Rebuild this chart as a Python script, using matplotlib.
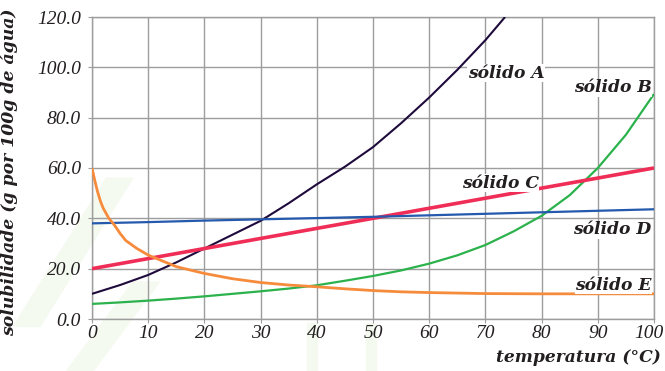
import matplotlib
matplotlib.use("Agg")
import matplotlib.pyplot as plt
import matplotlib.transforms as mtransforms
from matplotlib.patches import Polygon, Rectangle

# solubility curves read at the given temperatures (°C)
temp_a = [0, 5, 10, 15, 20, 25, 30, 35, 40, 45, 50, 55, 60, 65, 70, 73.5]
sol_a = [10, 13.5, 17.5, 22.5, 28, 33.5, 39, 46, 53.5, 60.5, 68.3, 77.8, 88, 99, 110.8, 120]

temp_b = [0, 5, 10, 15, 20, 25, 30, 35, 40, 45, 50, 55, 60, 65, 70, 75, 80, 85, 90, 95, 100]
sol_b = [6, 6.6, 7.3, 8.1, 9, 10, 11, 12.1, 13.4, 15.2, 17.1, 19.3, 22, 25.3, 29.4, 34.8,
         41, 49.2, 60, 73.2, 89.4]

temp_c = [0, 10, 20, 30, 40, 50, 60, 70, 80, 90, 100]
sol_c = [20, 24, 28, 32, 36, 40, 44, 48, 52, 56, 60]

temp_d = [0, 10, 20, 30, 40, 50, 60, 70, 80, 90, 100]
sol_d = [38, 38.5, 39.1, 39.6, 40.1, 40.6, 41.2, 41.8, 42.4, 43, 43.6]

temp_e = [0, 0.5, 1, 1.5, 2, 3, 4, 5, 6, 8, 10, 15, 20, 25, 30, 35, 40, 45, 50, 55, 60,
          70, 80, 90, 100]
sol_e = [60, 55, 50.5, 46.8, 44, 40, 37.3, 34, 31.2, 28, 25.4, 20.8, 18.1, 16, 14.5, 13.5,
         12.8, 12, 11.3, 10.8, 10.5, 10.1, 10, 10, 10]

x_ticks = list(range(0, 101, 10))
y_ticks = list(range(0, 121, 20))

series = [
    (temp_a, sol_a, '#1e0b3c', 1.5),
    (temp_b, sol_b, '#2bb24c', 1.6),
    (temp_c, sol_c, '#ef2d56', 2.6),
    (temp_d, sol_d, '#2459ad', 1.6),
    (temp_e, sol_e, '#f68b3c', 2.0),
]

# label text, x, y, horizontal alignment
labels = [
    ('sólido A', 66.9, 97.7, 'left'),
    ('sólido B', 99.6, 91.8, 'right'),
    ('sólido C', 65.8, 54.0, 'left'),
    ('sólido D', 99.6, 35.4, 'right'),
    ('sólido E', 99.6, 13.5, 'right'),
]

plt.rcParams['font.family'] = ['DejaVu Serif']
ink = '#231f20'
tick_font = dict(fontfamily='Liberation Serif', fontstyle='italic', fontsize=14, color=ink)

fig = plt.figure(figsize=(6.65, 3.71), dpi=100)
fig.patch.set_facecolor('white')

# faint page decoration behind the chart
deco = '#f5faf1'
for pts in ([[0.02, 0.12], [0.06, 0.12], [0.20, 0.52], [0.16, 0.52]],
            [[0.10, 0.0], [0.14, 0.0], [0.24, 0.24], [0.20, 0.24]]):
    fig.patches.append(Polygon(pts, closed=True, transform=fig.transFigure,
                               color=deco, zorder=-5))
for x0 in (0.462, 0.551):
    fig.patches.append(Rectangle((x0, 0.0), 0.014, 0.13, transform=fig.transFigure,
                                 color=deco, zorder=-5))

ax = fig.add_axes([92 / 665, 1 - 319 / 371, 562 / 665, 302 / 371])
ax.set_facecolor('none')

for t, s, col, lw in series:
    ax.plot(t, s, color=col, lw=lw, solid_capstyle='butt', solid_joinstyle='round', zorder=3)

for txt, x, y, ha in labels:
    ax.text(x, y, txt, ha=ha, va='center', fontsize=12.3, fontweight='bold',
            style='italic', color=ink, zorder=4,
            bbox=dict(facecolor='white', edgecolor='none', pad=0.5))

ax.set_xlim(0, 100)
ax.set_ylim(0, 120)
ax.set_xticks(x_ticks)
ax.set_yticks(y_ticks)
ax.set_xticklabels([str(v) for v in x_ticks], **tick_font)
ax.set_yticklabels(['%.1f' % v for v in y_ticks], **tick_font)
ax.grid(True, color='#9d9d9d', lw=1.0, zorder=1)
ax.set_axisbelow(True)
for sp in ax.spines.values():
    sp.set_color('#9d9d9d')
    sp.set_linewidth(1.0)
ax.tick_params(axis='both', direction='out', length=3, color='#9d9d9d')
ax.tick_params(axis='y', pad=5)
ax.tick_params(axis='x', pad=1.5)

# nudge the last x label so it stays inside the figure
last = ax.get_xticklabels()[-1]
last.set_transform(last.get_transform() +
                   mtransforms.ScaledTranslation(-5 / 100, 0, fig.dpi_scale_trans))

ax.set_ylabel('solubilidade (g por 100g de água)', fontsize=12.4, fontweight='bold',
              style='italic', color=ink)
ax.yaxis.set_label_coords(-0.132, 0.487)

fig.text(661 / 665, 1 - 358 / 371, 'temperatura (°C)', ha='right', va='center',
         fontsize=12.3, fontweight='bold', style='italic', color=ink)

fig.savefig('out.png', dpi=100)
